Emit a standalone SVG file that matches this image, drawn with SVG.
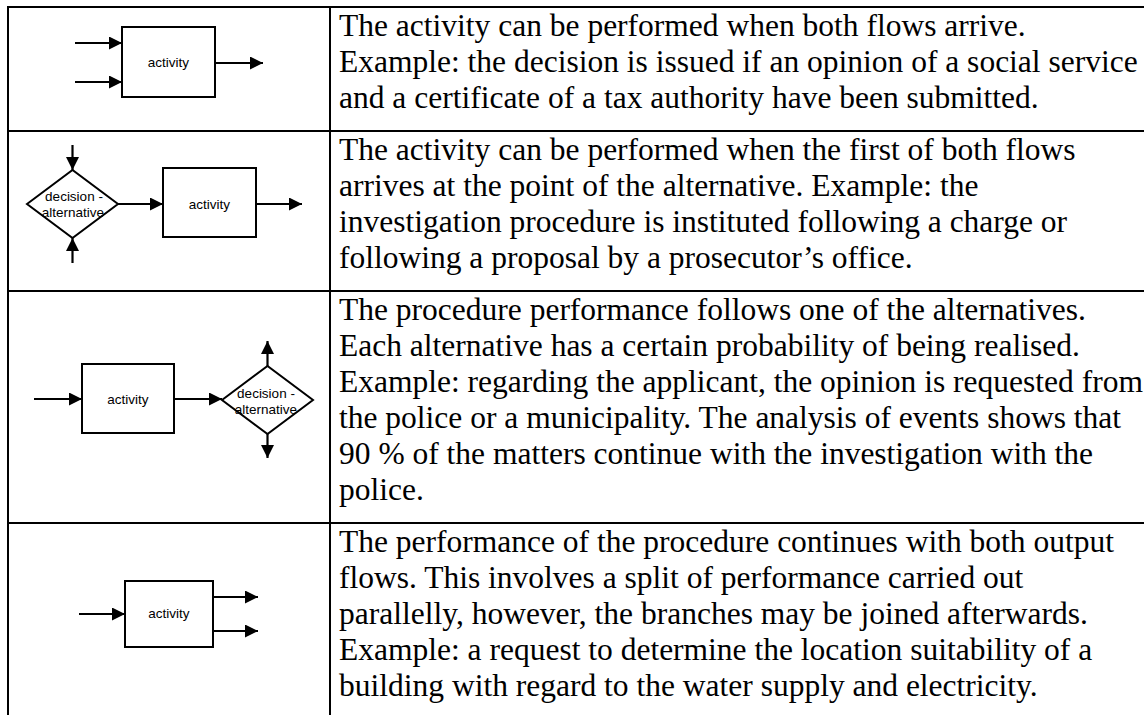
<svg xmlns="http://www.w3.org/2000/svg" width="1144" height="715" viewBox="0 0 1144 715">
  <style>
    .grid { stroke: #000; stroke-width: 2; fill: none; }
    .shape { stroke: #000; stroke-width: 2; fill: #fff; }
    .flow { stroke: #000; stroke-width: 2.2; fill: none; marker-end: url(#arrow); }
    .lbl { font-family: "Liberation Sans", Arial, sans-serif; font-size: 13.5px; fill: #000; text-anchor: middle; }
    .desc { font-family: "Liberation Serif", "Times New Roman", serif; font-size: 31.5px; fill: #000; }
  </style>
  <defs>
    <marker id="arrow" markerUnits="userSpaceOnUse" markerWidth="14" markerHeight="14" refX="13" refY="6.5" orient="auto">
      <path d="M0,0 L13,6.5 L0,13 z" fill="#000"/>
    </marker>
  </defs>
  <rect width="1144" height="715" fill="#fff"/>

  <!-- table rules -->
  <g id="table" class="grid">
    <line x1="7" y1="7" x2="1144" y2="7"/>
    <line x1="7" y1="131" x2="1144" y2="131"/>
    <line x1="7" y1="291" x2="1144" y2="291"/>
    <line x1="7" y1="523" x2="1144" y2="523"/>
    <line x1="8" y1="6" x2="8" y2="715"/>
    <line x1="330" y1="6" x2="330" y2="715"/>
  </g>

  <!-- row 1: join of two flows -->
  <g id="r1-activity">
    <rect class="shape" x="122" y="27" width="93" height="70"/>
    <text class="lbl" x="168.5" y="67">activity</text>
  </g>

  <!-- row 2: alternative merge -->
  <g id="r2-decision">
    <polygon class="shape" points="27,204 72.5,170 118,204 72.5,238"/>
    <text class="lbl" x="74" y="201">decision -</text>
    <text class="lbl" x="73" y="217">alternative</text>
  </g>
  <g id="r2-activity">
    <rect class="shape" x="163" y="168" width="93" height="69"/>
    <text class="lbl" x="209.5" y="209">activity</text>
  </g>

  <!-- row 3: alternative split -->
  <g id="r3-activity">
    <rect class="shape" x="82" y="364" width="92" height="69"/>
    <text class="lbl" x="128" y="404">activity</text>
  </g>
  <g id="r3-decision">
    <polygon class="shape" points="222,400 267.5,366 313,400 267.5,434"/>
    <text class="lbl" x="266" y="398">decision -</text>
    <text class="lbl" x="266" y="414">alternative</text>
  </g>

  <!-- row 4: parallel split -->
  <g id="r4-activity">
    <rect class="shape" x="125" y="581" width="88" height="66"/>
    <text class="lbl" x="169" y="618">activity</text>
  </g>

  <!-- flows -->
  <g id="connectors">
    <line class="flow" x1="75" y1="43" x2="122" y2="43"/>
    <line class="flow" x1="75" y1="82" x2="122" y2="82"/>
    <line class="flow" x1="215" y1="63" x2="263" y2="63"/>

    <line class="flow" x1="72.5" y1="145" x2="72.5" y2="170"/>
    <line class="flow" x1="72.5" y1="263" x2="72.5" y2="238"/>
    <line class="flow" x1="118" y1="204" x2="163" y2="204"/>
    <line class="flow" x1="256" y1="204" x2="302" y2="204"/>

    <line class="flow" x1="34" y1="399" x2="82" y2="399"/>
    <line class="flow" x1="174" y1="399" x2="222" y2="399"/>
    <line class="flow" x1="267.5" y1="366" x2="267.5" y2="341"/>
    <line class="flow" x1="267.5" y1="434" x2="267.5" y2="458"/>

    <line class="flow" x1="79" y1="614" x2="125" y2="614"/>
    <line class="flow" x1="213" y1="597" x2="258" y2="597"/>
    <line class="flow" x1="213" y1="631" x2="258" y2="631"/>
  </g>

  <!-- descriptions -->
  <g id="r1-text" class="desc">
    <text x="339" y="36">The activity can be performed when both flows arrive.</text>
    <text x="339" y="72">Example: the decision is issued if an opinion of a social service</text>
    <text x="339" y="108">and a certificate of a tax authority have been submitted.</text>
  </g>
  <g id="r2-text" class="desc">
    <text x="339" y="160">The activity can be performed when the first of both flows</text>
    <text x="339" y="196">arrives at the point of the alternative. Example: the</text>
    <text x="339" y="232">investigation procedure is instituted following a charge or</text>
    <text x="339" y="268">following a proposal by a prosecutor’s office.</text>
  </g>
  <g id="r3-text" class="desc">
    <text x="339" y="320">The procedure performance follows one of the alternatives.</text>
    <text x="339" y="356">Each alternative has a certain probability of being realised.</text>
    <text x="339" y="392">Example: regarding the applicant, the opinion is requested from</text>
    <text x="339" y="428">the police or a municipality. The analysis of events shows that</text>
    <text x="339" y="464">90 % of the matters continue with the investigation with the</text>
    <text x="339" y="500">police.</text>
  </g>
  <g id="r4-text" class="desc">
    <text x="339" y="552">The performance of the procedure continues with both output</text>
    <text x="339" y="588">flows. This involves a split of performance carried out</text>
    <text x="339" y="624">parallelly, however, the branches may be joined afterwards.</text>
    <text x="339" y="660">Example: a request to determine the location suitability of a</text>
    <text x="339" y="696">building with regard to the water supply and electricity.</text>
  </g>
</svg>
